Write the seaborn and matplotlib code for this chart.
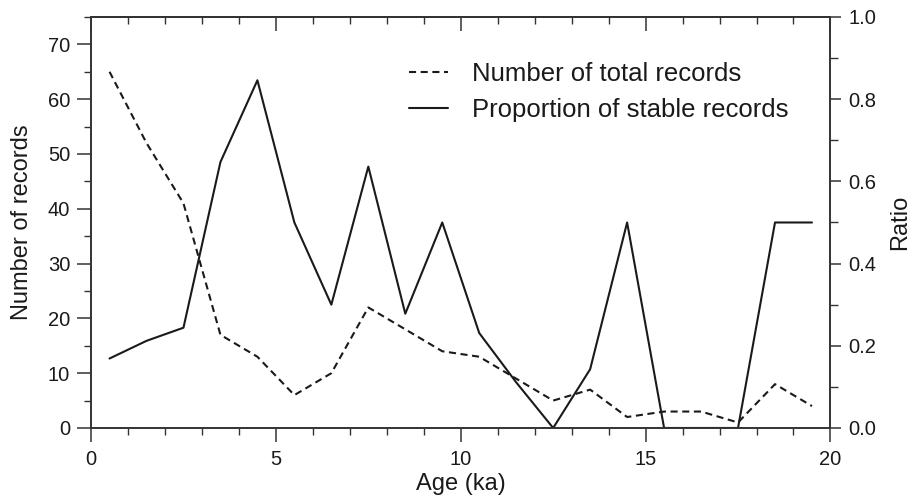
import matplotlib
matplotlib.use("Agg")
import matplotlib.pyplot as plt
from matplotlib.ticker import MultipleLocator, FormatStrFormatter
import seaborn as sns
import pandas as pd

# Age bins (ka, bin centres)
age = [0.5, 1.5, 2.5, 3.5, 4.5, 5.5, 6.5, 7.5, 8.5, 9.5,
       10.5, 11.5, 12.5, 13.5, 14.5, 15.5, 16.5, 17.5, 18.5, 19.5]
# Number of records in each bin
total_records = [65, 52, 41, 17, 13, 6, 10, 22, 18, 14,
                 13, 9, 5, 7, 2, 3, 3, 1, 8, 4]
# Fraction of the records in each bin that are stable
stable_ratio = [0.169, 0.212, 0.244, 0.647, 0.846, 0.5, 0.3, 0.636, 0.278, 0.5,
                0.231, 0.111, 0.0, 0.143, 0.5, 0.0, 0.0, 0.0, 0.5, 0.5]

labels = ["Number of total records", "Proportion of stable records"]

df = pd.DataFrame({"age": age, "total": total_records, "ratio": stable_ratio})

sns.set_style("ticks")
plt.rcParams["font.family"] = ["Liberation Sans", "DejaVu Sans"]
plt.rcParams["text.color"] = "#1a1a1a"
plt.rcParams["axes.labelcolor"] = "#1a1a1a"
plt.rcParams["xtick.labelcolor"] = "#1a1a1a"
plt.rcParams["ytick.labelcolor"] = "#1a1a1a"

fig = plt.figure(figsize=(9.14, 4.98), dpi=100)
ax = fig.add_axes([0.0996, 0.1406, 0.8090, 0.8253])
ax2 = ax.twinx()

sns.lineplot(data=df, x="age", y="total", ax=ax, color="#1a1a1a",
             linewidth=1.5, linestyle=(0, (3.4, 2.2)), label=labels[0], legend=False)
sns.lineplot(data=df, x="age", y="ratio", ax=ax2, color="#1a1a1a",
             linewidth=1.5, label=labels[1], legend=False)

ax.set_xlim(0, 20)
ax.set_ylim(0, 75)
ax2.set_ylim(0, 1.0)

ax.xaxis.set_major_locator(MultipleLocator(5))
ax.xaxis.set_minor_locator(MultipleLocator(1))
ax.yaxis.set_major_locator(MultipleLocator(10))
ax.yaxis.set_minor_locator(MultipleLocator(5))
ax2.yaxis.set_major_locator(MultipleLocator(0.2))
ax2.yaxis.set_minor_locator(MultipleLocator(0.1))
ax2.yaxis.set_major_formatter(FormatStrFormatter("%.1f"))

for a in (ax, ax2):
    for s in a.spines.values():
        s.set_visible(True)
        s.set_color("#333333")
        s.set_linewidth(1.2)

tick_col = "#333333"
ax.tick_params(axis="x", which="major", direction="out", length=10, width=1.1,
               labelsize=14.5, pad=6, color=tick_col)
ax.tick_params(axis="x", which="minor", direction="out", length=5, width=1.0,
               color=tick_col)
ax.tick_params(axis="y", which="major", direction="out", length=10, width=1.1,
               labelsize=14.5, pad=5, color=tick_col)
ax.tick_params(axis="y", which="minor", direction="out", length=5, width=1.0,
               color=tick_col)
ax2.tick_params(axis="y", which="major", direction="out", length=8, width=1.1,
                labelsize=14.5, pad=5, color=tick_col)
ax2.tick_params(axis="y", which="minor", direction="out", length=6, width=1.0,
                color=tick_col)

# inward ticks along the top edge
top = ax.secondary_xaxis("top")
top.xaxis.set_major_locator(MultipleLocator(5))
top.xaxis.set_minor_locator(MultipleLocator(1))
top.tick_params(axis="x", which="major", direction="in", length=10, width=1.1,
                labeltop=False, color=tick_col)
top.tick_params(axis="x", which="minor", direction="in", length=5, width=1.0,
                color=tick_col)
top.spines["top"].set_color("#333333")
top.spines["top"].set_linewidth(1.2)

ax.set_xlabel("Age (ka)", fontsize=17, labelpad=3)
ax.set_ylabel("Number of records", fontsize=17, labelpad=11)
ax2.set_ylabel("Ratio", fontsize=17, labelpad=9)

h1, _ = ax.get_legend_handles_labels()
h2, _ = ax2.get_legend_handles_labels()
ax.legend(h1 + h2, labels, loc="upper left", bbox_to_anchor=(0.43, 0.89),
          frameon=False, fontsize=18.5, handlelength=1.5, handletextpad=0.95,
          labelspacing=0.45, borderpad=0, borderaxespad=0)

fig.savefig("out.png", dpi=100)
